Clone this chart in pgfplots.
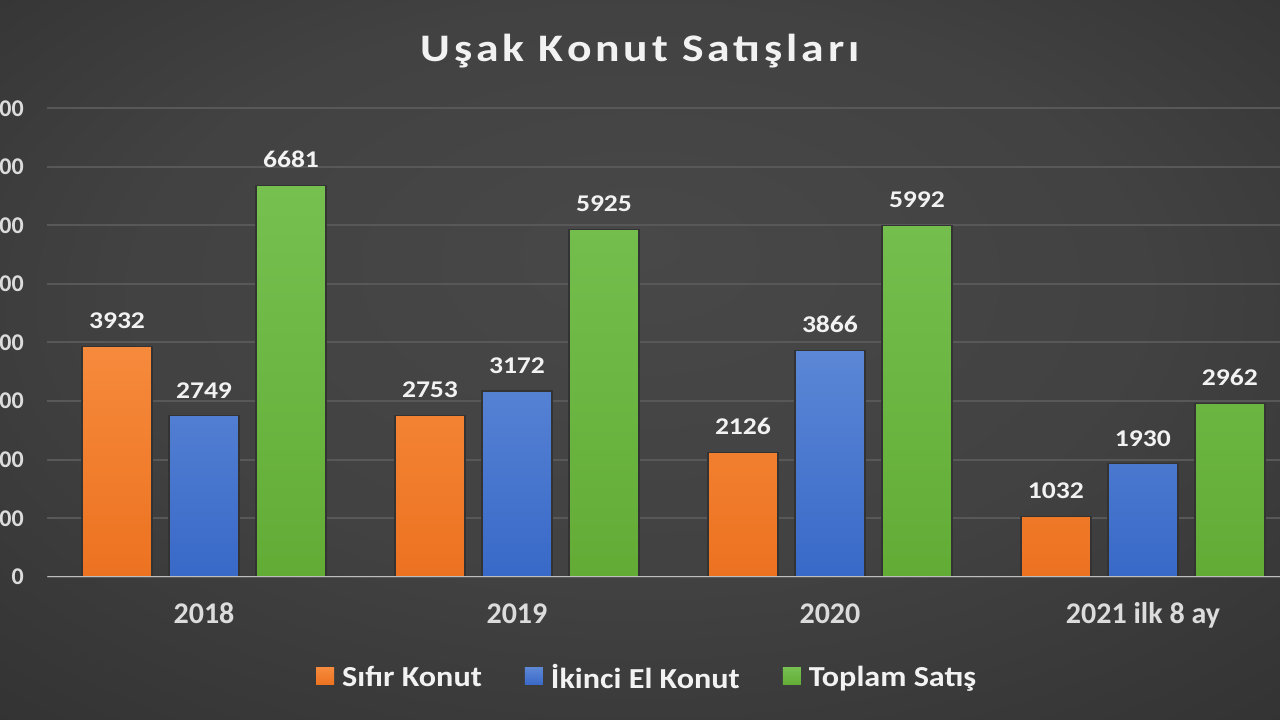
\documentclass[border=0pt]{standalone}
\usepackage{fontspec}
\setmainfont{Carlito}
\newfontfamily\titlefont[LetterSpace=10,FakeStretch=1.17]{Carlito}
\newfontfamily\labfont[FakeStretch=1.15]{Carlito}
\newfontfamily\legfont[FakeStretch=1.11]{Carlito}
\usepackage{pgfplots}
\pgfplotsset{compat=1.18}
\definecolor{bgin}{RGB}{72,72,72}
\definecolor{bgout}{RGB}{40,40,40}
\definecolor{orTop}{RGB}{246,138,60}
\definecolor{orBot}{RGB}{236,114,32}
\definecolor{blTop}{RGB}{92,135,214}
\definecolor{blBot}{RGB}{56,105,200}
\definecolor{grTop}{RGB}{118,192,80}
\definecolor{grBot}{RGB}{98,172,54}
\definecolor{gridc}{RGB}{88,88,88}
\definecolor{zeroc}{RGB}{190,190,190}
\definecolor{txt}{RGB}{242,242,242}
\definecolor{ticktxt}{RGB}{220,220,220}
\pgfdeclareradialshading{bgshade}{\pgfpoint{0bp}{8bp}}{color(0bp)=(bgin); color(20bp)=(bgin!80!bgout); color(50bp)=(bgout)}
\begin{document}
\begin{tikzpicture}
\useasboundingbox (0pt,0pt) rectangle (1280pt,720pt);
\clip (0pt,0pt) rectangle (1280pt,720pt);
\shade[shading=bgshade] (0pt,0pt) rectangle (1280pt,720pt);
\node[text=txt, font=\titlefont\bfseries\fontsize{39}{44}\selectfont] at (640pt,669pt) {Uşak Konut Satışları};
\begin{axis}[
  at={(47.5pt,143pt)}, anchor=south west,
  scale only axis, width=1252pt, height=469pt,
  xmin=-0.5, xmax=3.5, ymin=0, ymax=8000,
  ybar=17pt, bar width=70pt,
  axis line style={draw=none},
  ymajorgrids, grid style={gridc, line width=2pt},
  ytick={0,1000,2000,3000,4000,5000,6000,7000,8000},
  xtick={0,1,2,3},
  xticklabels={2018,2019,2020,2021 ilk 8 ay},
  major tick length=0pt,
  scaled y ticks=false,
  /pgf/number format/assume math mode=true,
  /pgf/number format/1000 sep={},
  yticklabel style={font=\bfseries\fontsize{24}{28}\selectfont, text=ticktxt, anchor=east, inner sep=0pt, xshift=-23.5pt},
  xticklabel style={font=\bfseries\fontsize{30}{34}\selectfont, text=ticktxt, anchor=base, inner sep=0pt, yshift=-47pt},
  nodes near coords,
  every node near coord/.append style={font=\labfont\bfseries\fontsize{24}{26}\selectfont, text=txt, anchor=south, inner sep=0pt, yshift=17pt},
  legend columns=3,
  legend style={at={(0.479,-0.213)}, anchor=center, draw=none, fill=none,
    font=\legfont\bfseries\fontsize{29}{32}\selectfont, text=txt,
    /tikz/every odd column/.append style={column sep=6pt},
    /tikz/every even column/.append style={column sep=41pt}},
  legend image code/.code={\path[#1, draw=none] (0pt,-8pt) rectangle (18pt,9pt);},
]
\addplot[draw=black!80, line width=1.2pt, top color=orTop, bottom color=orBot] coordinates {(0,3932) (1,2753) (2,2126) (3,1032)};
\addplot[draw=black!80, line width=1.2pt, top color=blTop, bottom color=blBot] coordinates {(0,2749) (1,3172) (2,3866) (3,1930)};
\addplot[draw=black!80, line width=1.2pt, top color=grTop, bottom color=grBot] coordinates {(0,6681) (1,5925) (2,5992) (3,2962)};
\legend{Sıfır Konut, İkinci El Konut, Toplam Satış}
\draw[zeroc, line width=2.5pt] (axis cs:-0.5,0) -- (axis cs:3.5,0);
\end{axis}
\end{tikzpicture}
\end{document}
